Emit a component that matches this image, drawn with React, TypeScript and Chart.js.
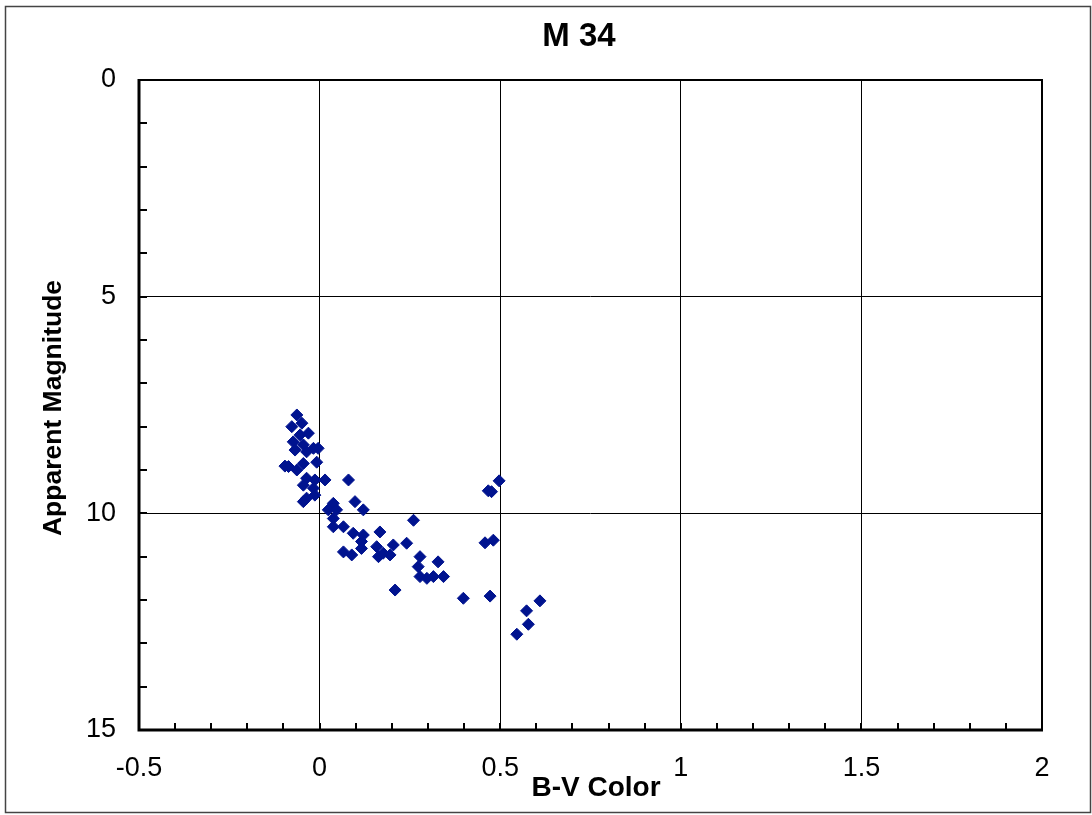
import React, { useEffect, useRef } from "react";
import { Chart, registerables } from "chart.js";

Chart.register(...registerables);

const chartTitle = "M 34";
const xAxisTitle = "B-V Color";
const yAxisTitle = "Apparent Magnitude";

const bvColor: number[] = [
  -0.063, -0.049, -0.077, -0.031, -0.054, -0.073, -0.045, -0.017, -0.004, -0.068,
  -0.036, -0.008, -0.086, -0.096, -0.063, -0.045, -0.036, -0.013, 0.015, 0.08,
  -0.045, -0.017, -0.036, -0.013, -0.045, 0.098, 0.121, 0.038, 0.024, 0.047,
  0.038, 0.038, 0.066, 0.093, 0.121, 0.167, 0.116, 0.116, 0.158, 0.204,
  0.241, 0.066, 0.089, 0.163, 0.195, 0.278, 0.328, 0.273, 0.278, 0.297,
  0.315, 0.343, 0.209, 0.26, 0.497, 0.476, 0.467, 0.458, 0.481, 0.398,
  0.472, 0.61, 0.573, 0.578, 0.546, 0.176,
];

const magnitude: number[] = [
  7.73, 7.92, 8.0, 8.15, 8.19, 8.35, 8.42, 8.5, 8.5, 8.54,
  8.58, 8.82, 8.92, 8.91, 9.0, 8.85, 9.19, 9.23, 9.23, 9.23,
  9.35, 9.42, 9.65, 9.58, 9.73, 9.73, 9.92, 9.77, 9.92, 9.92,
  10.12, 10.31, 10.31, 10.46, 10.5, 10.43, 10.65, 10.81, 10.77, 10.73,
  10.69, 10.89, 10.96, 11.0, 10.96, 11.0, 11.12, 11.23, 11.46, 11.5,
  11.46, 11.46, 11.77, 10.16, 9.25, 9.5, 9.48, 10.68, 10.62, 11.96,
  11.91, 12.02, 12.25, 12.56, 12.79, 10.92,
];

const xMin = -0.5;
const xMax = 2;
const xStep = 0.5;
const xMinorStep = 0.1;
const yMin = 0;
const yMax = 15;
const yStep = 5;
const yMinorStep = 1;

const FONT = "'Liberation Sans', Arial, sans-serif";
const MARKER = "#00138f";

const decorPlugin = {
  id: "decor",
  beforeDatasetsDraw(chart: any) {
    const { ctx, chartArea: a, scales } = chart;
    const xs = scales.x;
    const ys = scales.y;
    ctx.save();
    ctx.strokeStyle = "#000";
    ctx.lineWidth = 2;
    for (let i = 0; i <= Math.round((xMax - xMin) / xMinorStep); i++) {
      const v = xMin + i * xMinorStep;
      const px = Math.round(xs.getPixelForValue(v));
      ctx.beginPath();
      ctx.moveTo(px, a.bottom);
      ctx.lineTo(px, a.bottom - 7);
      ctx.stroke();
    }
    for (let i = 0; i <= Math.round((yMax - yMin) / yMinorStep); i++) {
      const v = yMin + i * yMinorStep;
      const py = Math.round(ys.getPixelForValue(v));
      ctx.beginPath();
      ctx.moveTo(a.left, py);
      ctx.lineTo(a.left + 8, py);
      ctx.stroke();
    }
    ctx.lineWidth = 2;
    ctx.strokeRect(a.left, a.top, a.right - a.left, a.bottom - a.top);
    ctx.lineWidth = 3;
    ctx.beginPath();
    ctx.moveTo(a.left, a.top - 1);
    ctx.lineTo(a.left, a.bottom);
    ctx.lineTo(a.right + 1, a.bottom);
    ctx.stroke();
    ctx.restore();
  },
  afterDraw(chart: any) {
    const { ctx } = chart;
    ctx.save();
    ctx.strokeStyle = "#444";
    ctx.lineWidth = 1.5;
    ctx.strokeRect(5.5, 6.5, 1085, 806);
    ctx.fillStyle = "#000";
    ctx.textAlign = "center";
    ctx.textBaseline = "middle";
    ctx.font = `bold 33px ${FONT}`;
    ctx.fillText(chartTitle, 579, 37);
    ctx.font = `bold 28px ${FONT}`;
    ctx.fillText(xAxisTitle, 596, 788);
    ctx.translate(54, 408);
    ctx.rotate(-Math.PI / 2);
    ctx.font = `bold 26.5px ${FONT}`;
    ctx.fillText(yAxisTitle, 0, 0);
    ctx.restore();
  },
};

export default function App() {
  const ref = useRef<HTMLCanvasElement | null>(null);
  useEffect(() => {
    document.body.style.margin = "0";
    const canvas = ref.current;
    if (!canvas) return;
    const points = bvColor.map((x, i) => ({ x, y: magnitude[i] }));
    const chart = new Chart(canvas, {
      type: "scatter",
      data: {
        datasets: [
          {
            data: points,
            pointStyle: "rectRot",
            pointRadius: 6,
            pointBackgroundColor: MARKER,
            pointBorderColor: MARKER,
            pointBorderWidth: 1,
          },
        ],
      },
      options: {
        responsive: false,
        animation: false,
        layout: { padding: { left: 0, top: 80, right: 50, bottom: 0 } },
        plugins: { legend: { display: false }, tooltip: { enabled: false }, title: { display: false } },
        scales: {
          x: {
            type: "linear",
            min: xMin,
            max: xMax,
            afterFit: (s: any) => {
              s.height = 85;
            },
            ticks: {
              stepSize: xStep,
              autoSkip: false,
              maxRotation: 0,
              color: "#000",
              padding: 22,
              font: { family: FONT, size: 27 },
              callback: (v: any) => String(Number(v)),
            },
            grid: { color: "#000", lineWidth: 1, drawTicks: false },
            border: { display: false },
          },
          y: {
            type: "linear",
            reverse: true,
            min: yMin,
            max: yMax,
            afterFit: (s: any) => {
              s.width = 139;
            },
            ticks: {
              stepSize: yStep,
              autoSkip: false,
              color: "#000",
              padding: 23,
              font: { family: FONT, size: 27 },
              callback: (v: any) => String(Number(v)),
            },
            grid: { color: "#000", lineWidth: 1, drawTicks: false },
            border: { display: false },
          },
        },
      },
      plugins: [decorPlugin],
    });
    return () => chart.destroy();
  }, []);
  return <canvas ref={ref} width={1092} height={815} style={{ display: "block" }} />;
}
